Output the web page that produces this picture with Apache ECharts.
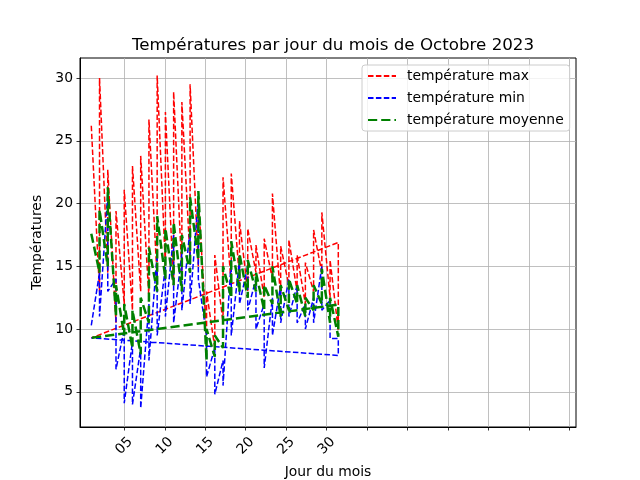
<!DOCTYPE html>
<html><head><meta charset="utf-8">
<script src="https://cdn.jsdelivr.net/npm/echarts@6/dist/echarts.min.js"></script>
<style>html,body{margin:0;padding:0;background:#fff}#c{width:640px;height:480px}</style>
</head><body><div id="c"></div>
<script>
// ---- data ----
const xTickValues = [5,10,15,20,25,30,35,40,45,50,55,60];
const xTickLabels = ['05','10','15','20','25','30','','','','','',''];
const yTickValues = [5,10,15,20,25,30];

const redDays  = [1, 2,2, 3,3, 4,4, 5,5, 6,6, 7,7, 8,8, 9,9, 10,10, 11,11, 12,12, 13,13, 14,14, 15,15, 16,16, 17,17, 18,18, 19,19, 20,20, 21,21, 22,22, 23,23, 24,24, 25,25, 26,26, 27,27, 28,28, 29,29, 30,30, 31,31, 1];
const redTemps = [26.2, 13.0,30.0, 14.5,22.7, 10.5,19.4, 12.0,21.1, 11.5,23.0, 13.0,23.8, 12.5,26.7, 14.0,30.2, 15.0,27.3, 13.5,28.9, 14.5,28.1, 15.5,29.5, 15.0,20.5, 9.5,13.0, 8.5,15.9, 10.5,22.1, 13.5,22.4, 14.0,18.6, 13.0,18.0, 14.5,16.7, 12.5,17.2, 14.0,20.8, 12.5,16.6, 13.5,17.1, 13.0,15.9, 12.0,15.3, 13.0,17.9, 14.5,19.3, 12.5,15.5, 9.9,16.9, 9.3];

const blueDays  = [1, 2,2, 3,3, 4,4, 5,5, 6,6, 7,7, 8,8, 9,9, 10,10, 11,11, 12,12, 13,13, 14,14, 15,15, 16,16, 17,17, 18,18, 19,19, 20,20, 21,21, 22,22, 23,23, 24,24, 25,25, 26,26, 27,27, 28,28, 29,29, 30,30, 31,31, 1];
const blueTemps = [10.3, 14.5,11.0, 20.8,13.0, 14.0,6.8, 10.0,4.1, 9.0,4.0, 8.5,3.7, 12.0,7.5, 16.0,9.5, 15.0,11.0, 17.5,10.5, 16.0,11.5, 18.0,12.0, 20.5,14.0, 9.5,6.2, 8.5,4.8, 7.5,5.5, 15.5,9.5, 15.5,12.0, 15.0,11.5, 14.0,10.0, 12.0,6.9, 12.5,9.5, 13.5,10.5, 14.0,11.0, 13.5,10.5, 12.0,10.0, 12.5,10.5, 15.0,11.5, 12.3,9.25, 9.25,7.9, 9.3];

const greenDays  = [1, 2,2, 3,3, 4,4, 5,5, 6,6, 7,7, 8,8, 9,9, 10,10, 11,11, 12,12, 13,13, 14,14, 15,15, 16,16, 17,17, 18,18, 19,19, 20,20, 21,21, 22,22, 23,23, 24,24, 25,25, 26,26, 27,27, 28,28, 29,29, 30,30, 31,31, 1];
const greenTemps = [17.6, 14.5,19.5, 15.0,21.3, 11.0,13.5, 9.5,12.0, 8.5,11.5, 8.0,12.5, 10.5,16.5, 13.0,19.0, 14.0,18.0, 13.5,18.5, 13.0,17.5, 14.5,20.5, 15.5,21.0, 7.5,10.0, 7.8,9.5, 8.5,15.0, 12.5,17.0, 13.0,16.0, 12.5,15.5, 13.0,14.5, 11.5,13.5, 12.0,15.0, 11.0,13.5, 11.5,14.0, 12.0,13.5, 11.0,12.5, 11.5,13.5, 12.0,14.8, 10.5,12.5, 9.4,11.95, 9.3];

const seriesNames = ['température max', 'température min', 'température moyenne'];
// ------------------------------------------------

function pairs(xs, ys){ return xs.map((x,i)=>[x, ys[i]]); }
const FONT = 'DejaVu Sans';
const labelMap = {};
xTickValues.forEach((v,i)=>{ labelMap[v] = xTickLabels[i]; });

const chart = echarts.init(document.getElementById('c'), null, {renderer:'canvas'});
chart.setOption({
  animation: false,
  backgroundColor: '#ffffff',
  textStyle: {fontFamily: FONT},
  title: {
    text: 'Températures par jour du mois de Octobre 2023',
    left: 328, top: 32, textAlign: 'center',
    textStyle: {fontFamily: FONT, fontSize: 16.7, fontWeight: 'normal', color: '#000'}
  },
  legend: {
    left: 362, top: 65, orient: 'vertical',
    padding: [4, 6, 4, 5],
    itemWidth: 28, itemHeight: 14, itemGap: 8,
    backgroundColor: 'rgba(255,255,255,0.8)',
    borderColor: '#cccccc', borderWidth: 1, borderRadius: 3,
    itemStyle: {color: 'rgba(0,0,0,0)', borderColor: 'rgba(0,0,0,0)', borderWidth: 0, opacity: 0},
    textStyle: {fontFamily: FONT, fontSize: 13.9, color: '#000', padding: [0,0,0,6]},
    data: seriesNames
  },
  grid: {left: 80, right: 64, top: 58, bottom: 53, show: true, borderColor: '#000', borderWidth: 1,
    containLabel: false, outerBoundsMode: 'none'},
  xAxis: [{
    type: 'value', min: -0.47, max: 60.79,
    name: 'Jour du mois', nameLocation: 'middle', nameGap: 38,
    nameTextStyle: {fontFamily: FONT, fontSize: 13.9, color: '#000'},
    axisLine: {show: true, onZero: false, lineStyle: {color: '#000', width: 1}},
    axisTick: {show: true, inside: false, length: 3.5, lineStyle: {color: '#000', width: 0.8}, customValues: xTickValues},
    axisLabel: {show: true, customValues: xTickValues.slice(0,6), rotate: 45, align: 'center', verticalAlign: 'middle', margin: 19,
      fontFamily: FONT, fontSize: 13.9, color: '#000', formatter: v => labelMap[v] || ''},
    splitLine: {show: true, lineStyle: {color: '#b0b0b0', width: 0.8}}
  }, {
    type: 'value', min: -0.372, max: 59.87, show: false,
    splitLine: {show: false}
  }],
  yAxis: {
    type: 'value', min: 2.2, max: 31.6,
    name: 'Températures', nameLocation: 'middle', nameGap: 35, nameRotate: 90,
    nameTextStyle: {fontFamily: FONT, fontSize: 13.9, color: '#000'},
    axisLine: {show: true, onZero: false, lineStyle: {color: '#000', width: 1}},
    axisTick: {show: true, inside: false, length: 3.5, lineStyle: {color: '#000', width: 0.8}, customValues: yTickValues},
    axisLabel: {show: true, customValues: yTickValues, margin: 7, fontFamily: FONT, fontSize: 13.9, color: '#000'},
    splitLine: {show: true, lineStyle: {color: '#b0b0b0', width: 0.8}}
  },
  series: [
    {type: 'line', name: seriesNames[0], xAxisIndex: 1, data: pairs(redDays, redTemps), symbol: 'none', showSymbol: false,
     lineStyle: {color: '#ff0000', width: 1.5, type: [5.5, 2.4]}, itemStyle: {color: '#ff0000'}, emphasis: {disabled: true}},
    {type: 'line', name: seriesNames[1], xAxisIndex: 1, data: pairs(blueDays, blueTemps), symbol: 'none', showSymbol: false,
     lineStyle: {color: '#0000ff', width: 1.5, type: [5.5, 2.4]}, itemStyle: {color: '#0000ff'}, emphasis: {disabled: true}},
    {type: 'line', name: seriesNames[2], xAxisIndex: 1, data: pairs(greenDays, greenTemps), symbol: 'none', showSymbol: false,
     lineStyle: {color: '#008000', width: 2.5, type: [9.2, 4]}, itemStyle: {color: '#008000'}, emphasis: {disabled: true}}
  ]
});
</script></body></html>
